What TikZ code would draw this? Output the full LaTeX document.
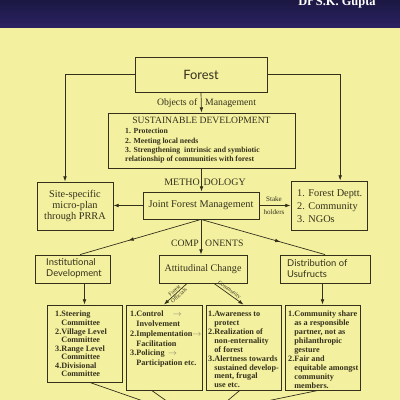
\documentclass[tikz,border=0pt]{standalone}
\usepackage{fontspec}
\setmainfont{Liberation Serif}
\newfontfamily\optsans{Lato}
\usetikzlibrary{arrows.meta,calc,decorations.markings}
\definecolor{bg}{HTML}{F3F1A0}
\definecolor{ink}{HTML}{35301C}
\definecolor{navyA}{HTML}{1B1843}
\definecolor{navyB}{HTML}{2C2262}
\definecolor{arrgray}{HTML}{8A8468}
\newcommand\setfz[2]{\fontsize{#1}{#2}\selectfont}
\begin{document}
\begin{tikzpicture}[x=0.03cm,y=-0.03cm,
  box/.style={draw=ink,line width=0.75pt,inner sep=0pt,rectangle},
  txt/.style={inner sep=0pt,text=ink},
  arr/.style={draw=ink,line width=0.6pt,-{Latex[length=4.5pt,width=3.2pt]}},
  plain/.style={draw=ink,line width=0.6pt},
  midarr/.style={draw=ink,line width=0.6pt,postaction={decorate},
    decoration={markings,mark=at position #1 with {\arrow{Latex[length=4.5pt,width=3.2pt]}}}},
  smallbold/.style={txt,anchor=north west,align=left,font=\bfseries\setfz{7}{7.6}},
]
\useasboundingbox (0,0) rectangle (400,400);
\clip (0,0) rectangle (400,400);
\fill[bg] (0,0) rectangle (400,400);
\shade[top color=navyA,bottom color=navyB] (0,0) rectangle (400,28);
\node[anchor=base,inner sep=0pt,text=white,font=\bfseries\setfz{10.6}{12}] (author) at (337,5.5) {Dr S.K. Gupta};

% boxes
\node[box,minimum width=3.96cm,minimum height=1.05cm,text=ink,font=\optsans\setfz{11}{13}] (forest) at (201,74.5) {Forest};
\node[box,minimum width=5.61cm,minimum height=1.65cm] (sd) at (201.5,140.5) {};
\node[box,minimum width=2.28cm,minimum height=1.44cm,align=center,text=ink,font=\setfz{8.8}{9.4}] (site) at (75,206) {Site-specific\\micro-plan\\through PRRA};
\node[box,minimum width=3.48cm,minimum height=0.81cm,text=ink,font=\setfz{8.8}{10}] (jfm) at (201,205.5) {Joint Forest Management};
\node[box,minimum width=2.28cm,minimum height=1.47cm] (stake) at (329,205.5) {};
\node[box,minimum width=2.25cm,minimum height=0.84cm] (inst) at (72.5,269) {};
\node[box,minimum width=2.64cm,minimum height=0.84cm,text=ink,font=\setfz{8.6}{10}] (att) at (203,269) {Attitudinal Change};
\node[box,minimum width=2.70cm,minimum height=0.84cm] (dist) at (325,269) {};
\node[box,minimum width=2.25cm,minimum height=2.31cm] (steer) at (84.5,343.5) {};
\node[box,minimum width=2.28cm,minimum height=2.55cm] (ctrl) at (164,347.5) {};
\node[box,minimum width=2.25cm,minimum height=2.55cm] (aware) at (243.5,347.5) {};
\node[box,minimum width=2.25cm,minimum height=2.55cm] (usu) at (322.5,347.5) {};

% texts
\node[txt,font=\setfz{8.2}{10}] (sdT) at (201.5,120.5) {SUSTAINABLE DEVELOPMENT};
\node[txt,anchor=north west,align=left,font=\bfseries\setfz{6.6}{7.9}] (sdL) at (125,128.2) {1. Protection\\2. Meeting local needs\\3. Strengthening\ \ intrinsic and symbiotic\\relationship of communities with forest};
\node[txt,anchor=north west,align=left,font=\setfz{8.8}{11}] (stakeL) at (297,189.3) {1. Forest Deptt.\\2. Community\\3. NGOs};
\node[txt,anchor=west,align=left,font=\optsans\setfz{8}{9}] (instT) at (46,268.5) {Institutional\\Development};
\node[txt,anchor=west,align=left,font=\optsans\setfz{8}{9}] (distT) at (287,268.5) {Distribution of\\Usufructs};

\node[txt,anchor=east,font=\setfz{8.3}{10}] (objA) at (197.5,103.5) {Objects of};
\node[txt,anchor=west,font=\setfz{8.3}{10}] (objB) at (205,103.5) {Management};
\node[txt,anchor=east,font=\setfz{8.5}{10}] (methA) at (200,182) {METHO};
\node[txt,anchor=west,font=\setfz{8.5}{10}] (methB) at (203.5,182) {DOLOGY};
\node[txt,anchor=east,font=\setfz{8.3}{10}] (compA) at (199,243) {COMP};
\node[txt,anchor=west,font=\setfz{8.3}{10}] (compB) at (205,243) {ONENTS};
\node[txt,font=\setfz{6}{7}] (stakeA) at (274,199.5) {Stake};
\node[txt,font=\setfz{6}{7}] (stakeB) at (274,212) {holders};

\node[smallbold,font=\bfseries\setfz{7}{7.3}] (steerL) at (55,311) {1.Steering\\\phantom{1.}Committee\\2.Village Level\\\phantom{1.}Committee\\3.Range Level\\\phantom{1.}Committee\\4.Divisional\\\phantom{1.}Committee};
\node[smallbold,font=\bfseries\setfz{7}{8.3}] (ctrlL) at (130,311) {1.Control\hspace{1.1em}{\color{arrgray}$\rightarrow$}\\\phantom{1.}Involvement\\2.Implementation{\color{arrgray}$\rightarrow$}\\\phantom{1.}Facilitation\\3.Policing\hspace{0.4em}{\color{arrgray}$\rightarrow$}\\\phantom{1.}Participation etc.};
\node[smallbold] (awareL) at (208,311) {1.Awareness to\\\phantom{1.}protect\\2.Realization of\\\phantom{1.}non-enternality\\\phantom{1.}of forest\\3.Alertness towards\\\phantom{1.}sustained develop-\\\phantom{1.}ment, frugal\\\phantom{1.}use etc.};
\node[smallbold] (usuL) at (288,311) {1.Community share\\\phantom{1.}as a responsible\\\phantom{1.}partner, not as\\\phantom{1.}philanthropic\\\phantom{1.}gesture\\2.Fair and\\\phantom{1.}equitable amongst\\\phantom{1.}community\\\phantom{1.}members.};

% connectors
\coordinate (siteIn) at ($(site.north west)!0.37!(site.north east)$);
\coordinate (stakeIn) at ($(stake.north west)!0.645!(stake.north east)$);
\draw[arr] (forest.west) -| (siteIn);
\draw[arr] (forest.east) -| (stakeIn);
\draw[arr] (forest.south) -- (sd.north);
\draw[arr] (sd.south) -- (sd.south |- jfm.north);
\draw[arr] (jfm.west) -- (jfm.west -| site.east);
\draw[arr] (jfm.east) -- (jfm.east -| stake.west);

\coordinate (instIn) at ($(inst.north west)!0.6!(inst.north east)$);
\draw[midarr=0.6] (jfm.south) -- (instIn);
\draw[midarr=0.64] (jfm.south) -- (dist.north);
\draw[arr] (jfm.south) -- (jfm.south |- att.north);

\draw[arr] (inst.south -| steer.north) -- (steer.north);
\draw[arr] (dist.south -| usu.north) -- (usu.north);

\coordinate (attL) at ($(att.south)+(-16,0)$);
\coordinate (attR) at ($(att.south)+(11,0)$);
\draw[arr] (attL) -- node[txt,sloped,align=center,font=\setfz{4.8}{5.6},pos=0.45] (offLab) {Forest\\Officials} (ctrl.north);
\draw[arr] (attR) -- node[txt,sloped,above,font=\setfz{4.8}{5.6},pos=0.45,inner sep=0.6pt] (comLab) {Community} (aware.north);

% lines leaving the frame at the bottom
\coordinate (bot1) at (146,402);
\coordinate (bot2) at (168,402);
\coordinate (bot3) at (226,402);
\coordinate (bot4) at (262,402);
\draw[plain] ($(steer.south west)!0.57!(steer.south east)$) -- (bot1);
\draw[plain] ($(ctrl.south west)!0.34!(ctrl.south east)$) -- (bot2);
\draw[plain] ($(aware.south west)!0.45!(aware.south east)$) -- (bot3);
\draw[plain] ($(usu.south west)!0.44!(usu.south east)$) -- (bot4);
\end{tikzpicture}
\end{document}
